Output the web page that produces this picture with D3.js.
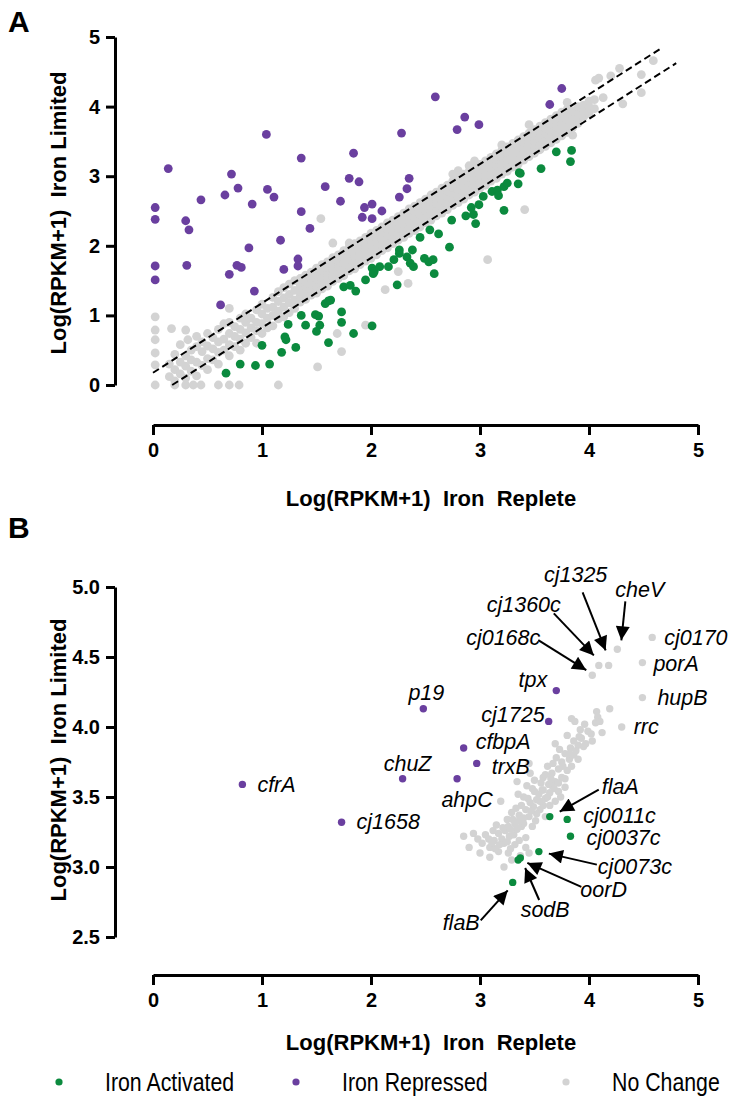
<!DOCTYPE html>
<html>
<head>
<meta charset="utf-8">
<script src="https://cdn.jsdelivr.net/npm/d3@7"></script>
<style>
  body { margin: 0; background: #fff; }
  text { font-family: "Liberation Sans", Arial, sans-serif; }
</style>
</head>
<body>
<div id="chart"></div>
<script>
'use strict'

// ---- data ----
const ticksA = [0, 1, 2, 3, 4, 5];
const ticksBy = [2.5, 3.0, 3.5, 4.0, 4.5, 5.0];
const legendLabels = ['Iron Activated', 'Iron Repressed', 'No Change'];

// fold-change cut-offs drawn in panel A (log10 1.5)
const cutLines = [[0, 0.176, 4.65, 4.826], [0.176, 0, 4.80, 4.624]];

const activatedA = [
  [0.67,0.17],[0.80,0.30],[0.94,0.28],[1.07,0.30],[1.00,0.57],[1.18,0.47],[1.21,0.69],[1.22,0.65],
  [1.24,0.87],[1.31,0.54],[1.36,1.00],[1.40,0.86],[1.49,1.01],[1.52,0.99],[1.53,0.86],[1.50,0.77],
  [1.61,0.61],[1.58,1.17],[1.61,1.21],[1.63,1.22],[1.73,1.05],[1.73,0.90],[1.84,0.74],[2.01,0.85],
  [1.75,1.41],[1.81,1.43],[1.86,1.35],[1.95,1.51],[2.01,1.68],[2.03,1.63],[2.08,1.70],[2.02,1.60],
  [2.16,1.70],[2.24,1.44],[2.21,1.80],[2.26,1.89],[2.33,1.84],[2.38,1.94],[2.36,1.75],[2.39,1.70],
  [2.49,1.82],[2.53,1.77],[2.57,1.80],[2.58,1.60],[2.45,2.12],[2.54,2.23],[2.62,2.17],[2.72,1.98],
  [2.74,2.37],[2.96,2.32],[2.87,2.43],[2.94,2.45],[2.92,2.55],[2.99,2.59],[3.03,2.71],[3.22,2.51],
  [3.11,2.78],[3.16,2.80],[3.17,2.72],[3.22,2.85],[3.25,2.90],[3.35,2.89],[3.36,3.05],[3.37,3.04],
  [3.56,3.11],[3.70,3.35],[3.84,3.37],[3.83,3.21],[2.26,1.94]
];

const repressedA = [
  [0.02,2.55],[0.02,2.38],[0.02,1.71],[0.02,1.51],[0.14,3.11],[0.30,2.36],[0.33,2.23],[0.31,1.72],
  [0.44,2.66],[0.62,1.15],[0.66,2.73],[0.70,1.59],[0.72,3.03],[0.77,1.72],[0.78,2.83],[0.81,1.69],
  [0.88,1.97],[0.91,2.60],[0.93,1.35],[1.04,3.60],[1.05,2.81],[1.11,2.70],[1.17,2.08],[1.20,1.66],
  [1.33,1.81],[1.33,1.71],[1.36,3.26],[1.36,2.49],[1.44,2.25],[1.58,2.85],[1.72,2.64],[1.80,2.97],
  [1.84,3.33],[1.89,2.92],[1.94,2.55],[1.92,2.41],[2.01,2.60],[2.10,2.50],[2.01,2.39],[2.26,2.70],
  [2.33,2.82],[2.35,2.97],[2.28,3.62],[2.59,4.14],[2.79,3.67],[2.86,3.85],[2.99,3.74],[3.64,4.03],
  [3.75,4.26]
];

// no-change genes in panel A, one row per x value: [x, y, y, ...]
const greyA = [
  [0.02, 0, 0.29, 0.46, 0.65, 0.79, 0.98], [0.17, 0.81], [0.20, 0], [0.30, 0, 0.79], [0.32, 0.65],
  [0.37, 0], [0.44, 0], [0.60, 0], [0.70, 0, 1.10], [0.79, 0], [1.15, 0], [1.51, 0.26], [1.73, 0.48],
  [1.69, 0.74], [1.95, 0.86], [1.54, 2.39], [1.65, 2.04], [1.80, 2.04], [3.07, 1.80], [3.41, 2.52],
  [2.25, 1.63], [2.13, 1.37], [2.34, 1.46],
  [0.15, 0.12, 0.30], [0.20, 0.06, 0.22, 0.44], [0.25, 0.16, 0.33, 0.58], [0.30, 0.10, 0.27, 0.42],
  [0.35, 0.20, 0.36, 0.50], [0.40, 0.13, 0.33, 0.55, 0.70], [0.45, 0.28, 0.48, 0.62],
  [0.50, 0.22, 0.38, 0.56, 0.74], [0.55, 0.36, 0.52, 0.68], [0.60, 0.30, 0.47, 0.62, 0.80],
  [0.65, 0.50, 0.66, 0.88], [0.70, 0.42, 0.58, 0.74, 0.90], [0.75, 0.55, 0.70, 0.84],
  [0.80, 0.50, 0.66, 0.80, 0.96], [0.85, 0.60, 0.75, 0.90, 1.02], [0.90, 0.68, 0.82, 0.96],
  [0.95, 0.60, 0.78, 0.90, 1.08], [1.00, 0.74, 0.88, 1.02, 1.16], [1.05, 0.82, 0.96, 1.10],
  [1.10, 0.85, 1.00, 1.12, 1.26], [1.15, 0.95, 1.06, 1.20, 1.34], [1.20, 0.98, 1.12, 1.25, 1.40],
  [1.25, 1.04, 1.18, 1.30, 1.45], [1.30, 1.10, 1.22, 1.36, 1.50],
  [1.35, 1.19, 1.28, 1.35, 1.44, 1.53], [1.40, 1.23, 1.31, 1.42, 1.49, 1.58],
  [1.45, 1.29, 1.38, 1.45, 1.54, 1.62], [1.50, 1.32, 1.41, 1.52, 1.59, 1.68],
  [1.55, 1.38, 1.46, 1.55, 1.64, 1.73], [1.60, 1.42, 1.53, 1.60, 1.69, 1.77],
  [1.65, 1.49, 1.56, 1.66, 1.74, 1.83], [1.70, 1.53, 1.61, 1.70, 1.79, 1.87],
  [1.75, 1.57, 1.68, 1.75, 1.84, 1.93], [1.80, 1.64, 1.71, 1.81, 1.89, 1.98],
  [1.85, 1.67, 1.77, 1.85, 1.94, 2.03], [1.90, 1.73, 1.81, 1.91, 1.99, 2.07],
  [1.95, 1.78, 1.87, 1.95, 2.04, 2.12], [2.00, 1.82, 1.91, 2.01, 2.09, 2.18],
  [2.05, 1.87, 1.96, 2.05, 2.14, 2.22], [2.10, 1.93, 2.01, 2.11, 2.19, 2.27],
  [2.15, 1.97, 2.07, 2.15, 2.24, 2.33], [2.20, 2.03, 2.11, 2.21, 2.29, 2.37],
  [2.25, 2.08, 2.16, 2.25, 2.34, 2.42], [2.30, 2.12, 2.22, 2.31, 2.39, 2.47],
  [2.35, 2.18, 2.26, 2.35, 2.44, 2.53], [2.40, 2.22, 2.31, 2.41, 2.49, 2.57],
  [2.45, 2.27, 2.37, 2.45, 2.54, 2.62], [2.50, 2.33, 2.41, 2.51, 2.59, 2.67],
  [2.55, 2.37, 2.46, 2.55, 2.64, 2.73], [2.60, 2.43, 2.51, 2.61, 2.69, 2.77],
  [2.65, 2.47, 2.57, 2.65, 2.74, 2.83], [2.70, 2.52, 2.61, 2.71, 2.79, 2.87],
  [2.75, 2.58, 2.66, 2.75, 2.84, 2.93, 3.03], [2.80, 2.62, 2.72, 2.81, 2.89, 2.97, 3.08],
  [2.85, 2.67, 2.76, 2.85, 2.94, 3.03], [2.90, 2.73, 2.81, 2.91, 2.99, 3.07, 3.15],
  [2.95, 2.77, 2.87, 2.95, 3.04, 3.12, 3.22], [3.00, 2.83, 2.91, 3.01, 3.09, 3.17],
  [3.05, 2.87, 2.96, 3.05, 3.14, 3.22], [3.10, 2.93, 3.01, 3.11, 3.19, 3.27],
  [3.15, 2.97, 3.07, 3.15, 3.24, 3.32], [3.20, 3.03, 3.11, 3.21, 3.29, 3.37, 3.45],
  [3.25, 3.07, 3.16, 3.25, 3.34, 3.42], [3.30, 3.13, 3.22, 3.31, 3.39, 3.47],
  [3.35, 3.17, 3.26, 3.35, 3.44, 3.52], [3.40, 3.23, 3.31, 3.41, 3.49, 3.57],
  [3.45, 3.28, 3.37, 3.45, 3.54, 3.62, 3.74], [3.50, 3.33, 3.41, 3.51, 3.59, 3.67],
  [3.55, 3.38, 3.46, 3.55, 3.64, 3.72], [3.60, 3.43, 3.52, 3.61, 3.69, 3.77],
  [3.65, 3.48, 3.56, 3.65, 3.74, 3.82], [3.70, 3.53, 3.62, 3.71, 3.79, 3.87],
  [3.75, 3.58, 3.66, 3.75, 3.84, 3.92], [3.80, 3.63, 3.72, 3.81, 3.89, 3.96, 4.06],
  [3.85, 3.59, 3.70, 3.78, 3.86, 3.94], [3.90, 3.76, 3.84, 3.92, 4.00],
  [3.95, 3.85, 3.93, 4.02], [4.00, 3.90, 4.00, 4.08], [4.05, 3.97, 4.10],
  [4.06, 4.38], [4.09, 4.41], [4.13, 4.13], [4.20, 4.44], [4.28, 4.55], [4.31, 4.04],
  [4.48, 4.20, 4.46], [4.59, 4.66]
];

// panel B: top expressed genes
const activatedB = [
  ['flaA', 3.64, 3.36], ['cj0011c', 3.80, 3.34], ['cj0037c', 3.83, 3.22], ['cj0073c', 3.54, 3.11],
  ['oorD', 3.37, 3.065], ['sodB', 3.35, 3.05], ['flaB', 3.30, 2.89]
];
const repressedB = [
  ['cfrA', 0.82, 3.59], ['cj1658', 1.73, 3.32], ['chuZ', 2.29, 3.63], ['p19', 2.48, 4.13],
  ['ahpC', 2.79, 3.63], ['cfbpA', 2.85, 3.85], ['trxB', 2.97, 3.74], ['cj1725', 3.63, 4.04],
  ['tpx', 3.70, 4.26]
];
const namedGreyB = [
  ['cheV', 4.26, 4.555], ['cj1325', 4.18, 4.44], ['cj1360c', 4.09, 4.44], ['cj0168c', 4.03, 4.37],
  ['cj0170', 4.58, 4.64], ['porA', 4.49, 4.46], ['hupB', 4.49, 4.21], ['rrc', 4.30, 4.00]
];
const greyB = [
  [3.87,4.04],[3.96,4.02],[4.06,4.03],[4.02,3.95],[3.93,3.92],[3.86,3.90],[3.90,3.87],[3.83,3.85],
  [3.69,3.88],[3.78,3.81],[3.86,3.80],[3.75,3.75],[3.82,3.77],[3.72,3.70],[3.80,3.69],[3.66,3.67],
  [3.75,3.64],[3.69,3.61],[3.63,3.59],[3.78,3.57],[3.72,3.54],[3.64,3.53],[3.57,3.55],[3.60,3.49],
  [3.69,3.47],[3.52,3.48],[3.45,3.74],[3.46,3.67],[3.49,3.43],[3.55,3.41],[3.42,3.41],[3.36,3.37],
  [3.45,3.36],[3.51,3.33],[3.32,3.31],[3.26,3.29],[3.38,3.29],[3.19,3.47],[3.34,3.61],[3.23,3.26],
  [3.17,3.24],[3.31,3.23],[3.42,3.21],[3.13,3.19],[3.22,3.17],[3.32,3.16],[3.05,3.23],[2.94,3.24],
  [2.85,3.22],[3.17,3.11],[3.26,3.10],[3.22,3.00],[3.09,3.14],[3.42,3.14],[3.45,3.10],
  [4.19,4.13],[4.07,4.11],[4.08,4.07],[4.10,4.04],[4.12,3.96],[3.84,4.06],
  [3.92,3.98],[3.99,3.97],[3.95,3.86],[3.88,3.83],[3.70,3.78],[3.62,3.72],[3.58,3.64],[3.66,3.58],
  [3.74,3.50],[3.54,3.52],[3.48,3.56],[3.40,3.50],[3.58,3.44],[3.46,3.46],[3.38,3.44],[3.29,3.39],
  [3.40,3.35],[3.34,3.27],[3.27,3.22],[3.20,3.20],[3.36,3.19],[3.12,3.26],[3.02,3.17],[3.14,3.13],
  [3.28,3.13],[3.37,3.08],[3.29,3.05],[3.09,3.07],[3.00,3.10],[3.60,3.36],[3.52,3.38],[3.64,3.44],
  [3.78,3.63],[3.84,3.72],[3.90,3.77],[3.97,3.88],[4.03,3.90],[3.80,3.94],[3.73,3.84],[3.56,3.60],
  [3.50,3.62],[3.30,3.34],
  [3.35,3.52],[3.43,3.58],[3.50,3.54],[3.62,3.50],[3.68,3.56],[3.55,3.47],[3.47,3.40],[3.40,3.31],
  [3.48,3.29],[3.33,3.42],[3.25,3.34],[3.21,3.28],[3.15,3.30],[3.08,3.20],[2.98,3.20],[2.90,3.14],
  [3.18,3.16],[3.25,3.18],[3.60,3.66],[3.67,3.74],[3.76,3.72],[3.82,3.81],[3.91,3.93],[3.58,3.55],
  [3.65,3.63],[3.72,3.60],[3.44,3.49],[3.36,3.33],[3.28,3.27],[3.11,3.17]
];

// ---- layout ----
const W = 738, H = 1102;
const GREEN = '#0b8a3e', PURPLE = '#6a3f9f', GREY = '#d3d3d3';
const xRange = [153, 698];
const yAxisX = 115;

// label placement relative to the dot (px); arrow = [tailDx, tailDy, tipDx, tipDy]
const labelLayout = {
  cfrA: {a: 'start', dx: 15, dy: 8},
  cj1658: {a: 'start', dx: 15, dy: 7},
  chuZ: {a: 'middle', dx: 5, dy: -8},
  p19: {a: 'middle', dx: 3, dy: -9},
  ahpC: {a: 'middle', dx: 10, dy: 28},
  cfbpA: {a: 'start', dx: 12, dy: 1},
  trxB: {a: 'start', dx: 15, dy: 11},
  cj1725: {a: 'end', dx: -4, dy: 1},
  tpx: {a: 'end', dx: -9, dy: -4},
  cj0168c: {a: 'end', dx: -52, dy: -30, arrow: [-54, -35, -6, -5]},
  cj1360c: {a: 'end', dx: -38, dy: -53, arrow: [-45, -52, -5, -10]},
  cj1325: {a: 'middle', dx: -33, dy: -83, arrow: [-26, -73, -3, -15]},
  cheV: {a: 'start', dx: -2, dy: -52, arrow: [8, -48, 4, -9]},
  cj0170: {a: 'start', dx: 12, dy: 8},
  porA: {a: 'start', dx: 11, dy: 8},
  hupB: {a: 'start', dx: 15, dy: 7},
  rrc: {a: 'start', dx: 12, dy: 7},
  flaA: {a: 'start', dx: 52, dy: -23, arrow: [49, -27, 10, -5]},
  cj0011c: {a: 'start', dx: 16, dy: 4},
  cj0037c: {a: 'start', dx: 16, dy: 9},
  cj0073c: {a: 'start', dx: 59, dy: 22, arrow: [58, 13, 10, 2]},
  oorD: {a: 'start', dx: 60, dy: 39, arrow: [61, 29, 7, 5]},
  sodB: {a: 'middle', dx: 27, dy: 57, arrow: [21, 40, 7, 8]},
  flaB: {a: 'end', dx: -33, dy: 48, arrow: [-32, 38, -5, 8]}
};

const svg = d3.select('#chart').append('svg')
  .attr('width', W).attr('height', H)
  .style('background', '#fff');

svg.append('defs').append('marker')
  .attr('id', 'head')
  .attr('viewBox', '0 0 10 10')
  .attr('refX', 10).attr('refY', 5)
  .attr('markerWidth', 17).attr('markerHeight', 14)
  .attr('markerUnits', 'userSpaceOnUse')
  .attr('orient', 'auto')
  .append('path').attr('d', 'M0,0 L10,5 L0,10 z').attr('fill', '#000');

function styleAxis(g) {
  g.select('.domain').attr('stroke-width', 3);
  g.selectAll('.tick line').attr('stroke-width', 3);
  g.selectAll('.tick text')
    .attr('font-family', '"Liberation Sans", Arial, sans-serif')
    .attr('font-size', 20).attr('font-weight', 'bold').attr('fill', '#000');
}

function axisTitle(text, x, y, rotate) {
  svg.append('text')
    .attr('transform', `translate(${x},${y})` + (rotate ? ' rotate(-90)' : ''))
    .attr('text-anchor', 'middle')
    .attr('font-size', 22).attr('font-weight', 'bold')
    .style('white-space', 'pre')
    .text(text);
}

function dots(g, data, color, r, x, y) {
  g.selectAll(null).data(data).enter()
    .append('circle')
      .attr('cx', d => x(d[0]))
      .attr('cy', d => y(d[1]))
      .attr('r', r)
      .attr('fill', color);
}

// ---- panel A ----
function drawPanelA() {
  const x = d3.scaleLinear().domain([0, 5]).range(xRange);
  const y = d3.scaleLinear().domain([0, 5]).range([385, 37]);
  const g = svg.append('g').attr('id', 'panelA');

  const greyPts = [];
  greyA.forEach(row => row.slice(1).forEach(v => greyPts.push([row[0], v])));
  dots(g, greyPts, GREY, 4.4, x, y);

  g.selectAll('line.cut').data(cutLines).enter()
    .append('line')
      .attr('class', 'cut')
      .attr('x1', d => x(d[0])).attr('y1', d => y(d[1]))
      .attr('x2', d => x(d[2])).attr('y2', d => y(d[3]))
      .attr('stroke', '#000').attr('stroke-width', 2)
      .attr('stroke-dasharray', '7,4');

  dots(g, activatedA, GREEN, 4.4, x, y);
  dots(g, repressedA, PURPLE, 4.4, x, y);

  svg.append('g').attr('transform', `translate(${yAxisX},0)`)
    .call(d3.axisLeft(y).tickValues(ticksA).tickFormat(d3.format('d'))
      .tickSize(9).tickSizeOuter(0).tickPadding(6))
    .call(styleAxis);
  svg.append('g').attr('transform', 'translate(0,425)')
    .call(d3.axisBottom(x).tickValues(ticksA).tickFormat(d3.format('d'))
      .tickSize(10).tickSizeOuter(0).tickPadding(8))
    .call(styleAxis);

  axisTitle('Log(RPKM+1)  Iron  Replete', 431, 506, false);
  axisTitle('Log(RPKM+1)  Iron Limited', 66, 213, true);

  svg.append('text').attr('x', 8).attr('y', 32)
    .attr('font-size', 30).attr('font-weight', 'bold').text('A');
}

// ---- panel B ----
function drawPanelB() {
  const x = d3.scaleLinear().domain([0, 5]).range(xRange);
  const y = d3.scaleLinear().domain([2.5, 5]).range([937, 587]);
  const g = svg.append('g').attr('id', 'panelB');
  const r = 3.7;

  dots(g, greyB, GREY, r, x, y);
  dots(g, namedGreyB.map(d => [d[1], d[2]]), GREY, r, x, y);
  dots(g, activatedB.map(d => [d[1], d[2]]), GREEN, r, x, y);
  dots(g, repressedB.map(d => [d[1], d[2]]), PURPLE, r, x, y);

  const named = [].concat(repressedB, activatedB, namedGreyB);

  named.forEach(d => {
    const L = labelLayout[d[0]];
    const px = x(d[1]), py = y(d[2]);
    if (L.arrow) {
      g.append('line')
        .attr('x1', px + L.arrow[0]).attr('y1', py + L.arrow[1])
        .attr('x2', px + L.arrow[2]).attr('y2', py + L.arrow[3])
        .attr('stroke', '#000').attr('stroke-width', 2)
        .attr('marker-end', 'url(#head)');
    }
    g.append('text')
      .attr('x', px + L.dx).attr('y', py + L.dy)
      .attr('text-anchor', L.a)
      .attr('font-size', 21.5).attr('font-style', 'italic')
      .text(d[0]);
  });

  svg.append('g').attr('transform', `translate(${yAxisX},0)`)
    .call(d3.axisLeft(y).tickValues(ticksBy).tickFormat(d3.format('.1f'))
      .tickSize(9).tickSizeOuter(0).tickPadding(6))
    .call(styleAxis);
  svg.append('g').attr('transform', 'translate(0,975)')
    .call(d3.axisBottom(x).tickValues(ticksA).tickFormat(d3.format('d'))
      .tickSize(10).tickSizeOuter(0).tickPadding(8))
    .call(styleAxis);

  axisTitle('Log(RPKM+1)  Iron  Replete', 431, 1050, false);
  axisTitle('Log(RPKM+1)  Iron Limited', 66, 760, true);

  svg.append('text').attr('x', 8).attr('y', 538)
    .attr('font-size', 30).attr('font-weight', 'bold').text('B');
}

// ---- legend ----
function drawLegend() {
  const colors = [GREEN, PURPLE, GREY];
  const dotX = [59, 296, 566];
  const g = svg.append('g').attr('transform', 'translate(0,1082)');
  const items = g.selectAll('g').data(legendLabels).enter()
    .append('g').attr('transform', (d, i) => `translate(${dotX[i]},0)`);
  items.append('circle').attr('r', 3.6).attr('fill', (d, i) => colors[i]);
  // narrow face is not installed, so squeeze the regular one
  items.append('text')
    .attr('transform', 'translate(46,9) scale(0.82,1)')
    .attr('font-size', 26)
    .text(d => d);
}

drawPanelA();
drawPanelB();
drawLegend();
</script>
</body>
</html>
